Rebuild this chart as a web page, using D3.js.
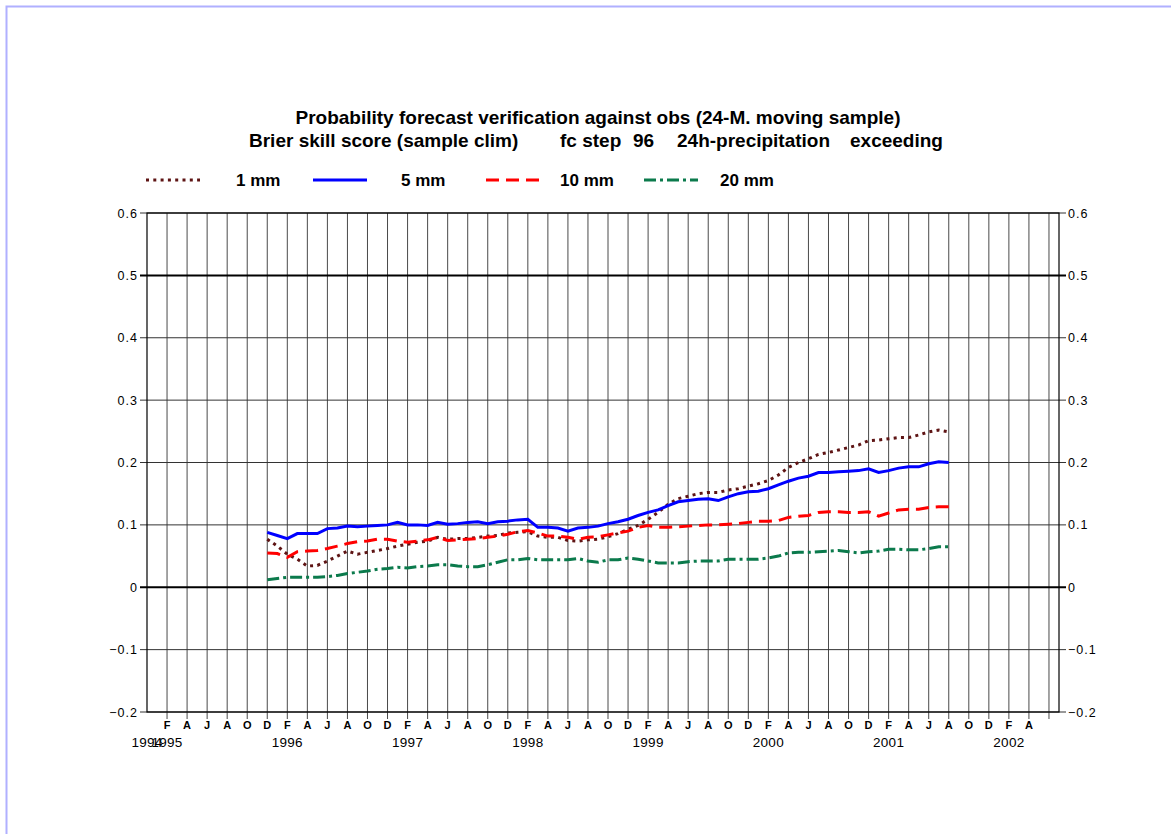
<!DOCTYPE html>
<html>
<head>
<meta charset="utf-8">
<script src="https://cdn.jsdelivr.net/npm/d3@7"></script>
<style>
  html, body { margin: 0; padding: 0; background: #fff; }
  svg { display: block; }
  text { font-family: "Liberation Sans", Arial, Helvetica, sans-serif; fill: #000; }
</style>
</head>
<body>
<svg id="chart" width="1171" height="834"></svg>
<script>
// Monthly values of the Brier skill score, Dec 1995 .. Aug 2001
const firstMonth = { year: 1995, month: 12 };
const bss1mm = [
  0.077, 0.066, 0.053, 0.045, 0.034, 0.035, 0.042, 0.050, 0.058, 0.053, 0.056, 0.059,
  0.062, 0.066, 0.069, 0.072, 0.074, 0.080, 0.077, 0.078, 0.078, 0.080, 0.082, 0.083,
  0.087, 0.088, 0.089, 0.082, 0.080, 0.080, 0.075, 0.074, 0.076, 0.077, 0.081, 0.086,
  0.093, 0.099, 0.109, 0.120, 0.133, 0.142, 0.146, 0.150, 0.152, 0.152, 0.156, 0.158,
  0.162, 0.166, 0.171, 0.180, 0.192, 0.200, 0.206, 0.213, 0.216, 0.220, 0.224, 0.228,
  0.235, 0.236, 0.238, 0.240, 0.240, 0.244, 0.249, 0.252, 0.249
];
const bss5mm = [
  0.088, 0.083, 0.078, 0.086, 0.086, 0.086, 0.094, 0.095, 0.098, 0.097, 0.098, 0.099,
  0.100, 0.104, 0.100, 0.100, 0.099, 0.104, 0.101, 0.102, 0.104, 0.105, 0.102, 0.105,
  0.106, 0.108, 0.109, 0.096, 0.096, 0.095, 0.090, 0.095, 0.096, 0.098, 0.102, 0.105,
  0.109, 0.115, 0.120, 0.124, 0.131, 0.137, 0.139, 0.141, 0.142, 0.139, 0.145, 0.150,
  0.153, 0.154, 0.158, 0.164, 0.170, 0.175, 0.178, 0.184, 0.184, 0.185, 0.186, 0.187,
  0.190, 0.184, 0.187, 0.191, 0.193, 0.193, 0.198, 0.201, 0.200
];
const bss10mm = [
  0.055, 0.054, 0.048, 0.057, 0.058, 0.059, 0.062, 0.066, 0.070, 0.073, 0.074, 0.077,
  0.077, 0.074, 0.072, 0.074, 0.076, 0.080, 0.075, 0.076, 0.077, 0.078, 0.080, 0.082,
  0.085, 0.089, 0.091, 0.087, 0.082, 0.082, 0.080, 0.077, 0.080, 0.081, 0.084, 0.087,
  0.090, 0.096, 0.099, 0.096, 0.096, 0.097, 0.098, 0.099, 0.100, 0.100, 0.101, 0.102,
  0.104, 0.106, 0.106, 0.107, 0.112, 0.114, 0.115, 0.120, 0.121, 0.121, 0.120, 0.120,
  0.121, 0.114, 0.119, 0.124, 0.125, 0.125, 0.128, 0.129, 0.129
];
const bss20mm = [
  0.012, 0.014, 0.016, 0.016, 0.016, 0.016, 0.017, 0.019, 0.022, 0.024, 0.026, 0.029,
  0.030, 0.032, 0.031, 0.033, 0.034, 0.036, 0.036, 0.034, 0.033, 0.033, 0.036, 0.040,
  0.044, 0.044, 0.046, 0.044, 0.044, 0.044, 0.044, 0.046, 0.042, 0.040, 0.044, 0.044,
  0.047, 0.045, 0.042, 0.039, 0.039, 0.039, 0.041, 0.042, 0.042, 0.042, 0.045, 0.045,
  0.045, 0.045, 0.047, 0.050, 0.055, 0.056, 0.056, 0.057, 0.058, 0.059, 0.057, 0.055,
  0.057, 0.058, 0.061, 0.061, 0.060, 0.060, 0.062, 0.065, 0.065
];

const seriesNames = ["1 mm", "5 mm", "10 mm", "20 mm"];
const seriesColors = ["#5e1414", "#0000ff", "#ff0000", "#0b7a4c"];
const seriesDash = ["3,4.3", null, "13,7", "12,4,3,4"];
const yTicks = [0.6, 0.5, 0.4, 0.3, 0.2, 0.1, 0, -0.1, -0.2];
const monthLetters = { 2: "F", 4: "A", 6: "J", 8: "A", 10: "O", 12: "D" };
const yearLabels = [
  { year: 1994, month: 12 }, { year: 1995, month: 2 }, { year: 1996, month: 2 },
  { year: 1997, month: 2 }, { year: 1998, month: 2 }, { year: 1999, month: 2 },
  { year: 2000, month: 2 }, { year: 2001, month: 2 }, { year: 2002, month: 2 }
];
const titleLine1 = "Probability forecast verification against obs (24-M. moving sample)";
const titleLine2 = ["Brier skill score (sample clim)", "fc step", "96", "24h-precipitation", "exceeding"];

const mIndex = (y, m) => y * 12 + (m - 1);

const svg = d3.select("#chart");

// page frame
svg.append("path")
  .attr("d", "M6.5,1200 V6.5 H1300")
  .attr("fill", "none").attr("stroke", "#b0b0ff").attr("stroke-width", 2);

const plot = { left: 147, right: 1059, top: 213, bottom: 712 };
const x = d3.scaleLinear()
  .domain([mIndex(1994, 12), mIndex(2002, 7)])
  .range([plot.left, plot.right]);
const y = d3.scaleLinear()
  .domain([-0.2, 0.6])
  .range([plot.bottom, plot.top]);

// vertical grid lines every second month, with ticks hanging below the axis
const gridMonths = d3.range(mIndex(1995, 2), mIndex(2002, 7), 2);
svg.append("g").selectAll("line").data(gridMonths).join("line")
  .attr("x1", d => x(d)).attr("x2", d => x(d))
  .attr("y1", plot.top).attr("y2", plot.bottom + 7)
  .attr("stroke", "#4a4a4a").attr("stroke-width", 1);

// horizontal grid lines
svg.append("g").selectAll("line").data(yTicks).join("line")
  .attr("x1", plot.left - 7).attr("x2", plot.right + 7)
  .attr("y1", d => y(d)).attr("y2", d => y(d))
  .attr("stroke", d => (d === 0 || d === 0.5) ? "#000" : "#333")
  .attr("stroke-width", d => (d === 0 || d === 0.5) ? 2 : 1);

// frame
svg.append("rect")
  .attr("x", plot.left).attr("y", plot.top)
  .attr("width", plot.right - plot.left).attr("height", plot.bottom - plot.top)
  .attr("fill", "none").attr("stroke", "#000").attr("stroke-width", 1.2);

// y tick labels, both sides
const fmt = d => (d === 0 ? "0" : d3.format(".1f")(d));
svg.append("g").selectAll("text").data(yTicks).join("text")
  .attr("x", plot.left - 9).attr("y", d => y(d) + 4.5)
  .attr("text-anchor", "end")
  .attr("font-size", 12.5).attr("letter-spacing", 1)
  .text(fmt);
svg.append("g").selectAll("text").data(yTicks).join("text")
  .attr("x", plot.right + 9).attr("y", d => y(d) + 4.5)
  .attr("text-anchor", "start")
  .attr("font-size", 12.5).attr("letter-spacing", 1)
  .text(fmt);

// month letters
svg.append("g").selectAll("text")
  .data(gridMonths.filter(d => d <= mIndex(2002, 4))).join("text")
  .attr("x", d => x(d)).attr("y", 729)
  .attr("text-anchor", "middle")
  .attr("font-size", 11).attr("font-weight", "bold")
  .text(d => monthLetters[(d % 12) + 1]);

// year labels
svg.append("g").selectAll("text").data(yearLabels).join("text")
  .attr("x", d => x(mIndex(d.year, d.month))).attr("y", 747)
  .attr("text-anchor", "middle")
  .attr("font-size", 13.5).attr("letter-spacing", 0.3)
  .text(d => d.year);

// data lines
const start = mIndex(firstMonth.year, firstMonth.month);
const allSeries = [bss1mm, bss5mm, bss10mm, bss20mm];
const line = d3.line()
  .x((d, i) => x(start + i))
  .y(d => y(d));
svg.append("g").selectAll("path").data(allSeries).join("path")
  .attr("d", line)
  .attr("fill", "none")
  .attr("stroke", (d, i) => seriesColors[i])
  .attr("stroke-width", 3)
  .attr("stroke-dasharray", (d, i) => seriesDash[i]);

// legend
const legendX = [146, 313, 486, 644];
const legendTextX = [236, 401, 560, 720];
const legendY = 180;
const lg = svg.append("g");
seriesNames.forEach((name, i) => {
  lg.append("line")
    .attr("x1", legendX[i]).attr("x2", legendX[i] + 54)
    .attr("y1", legendY).attr("y2", legendY)
    .attr("stroke", seriesColors[i]).attr("stroke-width", 3)
    .attr("stroke-dasharray", seriesDash[i]);
  lg.append("text")
    .attr("x", legendTextX[i]).attr("y", legendY + 6)
    .attr("font-size", 17).attr("font-weight", "bold")
    .text(name);
});

// titles
svg.append("text")
  .attr("x", 598).attr("y", 124)
  .attr("text-anchor", "middle")
  .attr("font-size", 19).attr("font-weight", "bold")
  .text(titleLine1);
const t2x = [249, 560, 633, 677, 850];
svg.append("g").selectAll("text").data(titleLine2).join("text")
  .attr("x", (d, i) => t2x[i]).attr("y", 147)
  .attr("font-size", 19).attr("font-weight", "bold")
  .text(d => d);
</script>
</body>
</html>
